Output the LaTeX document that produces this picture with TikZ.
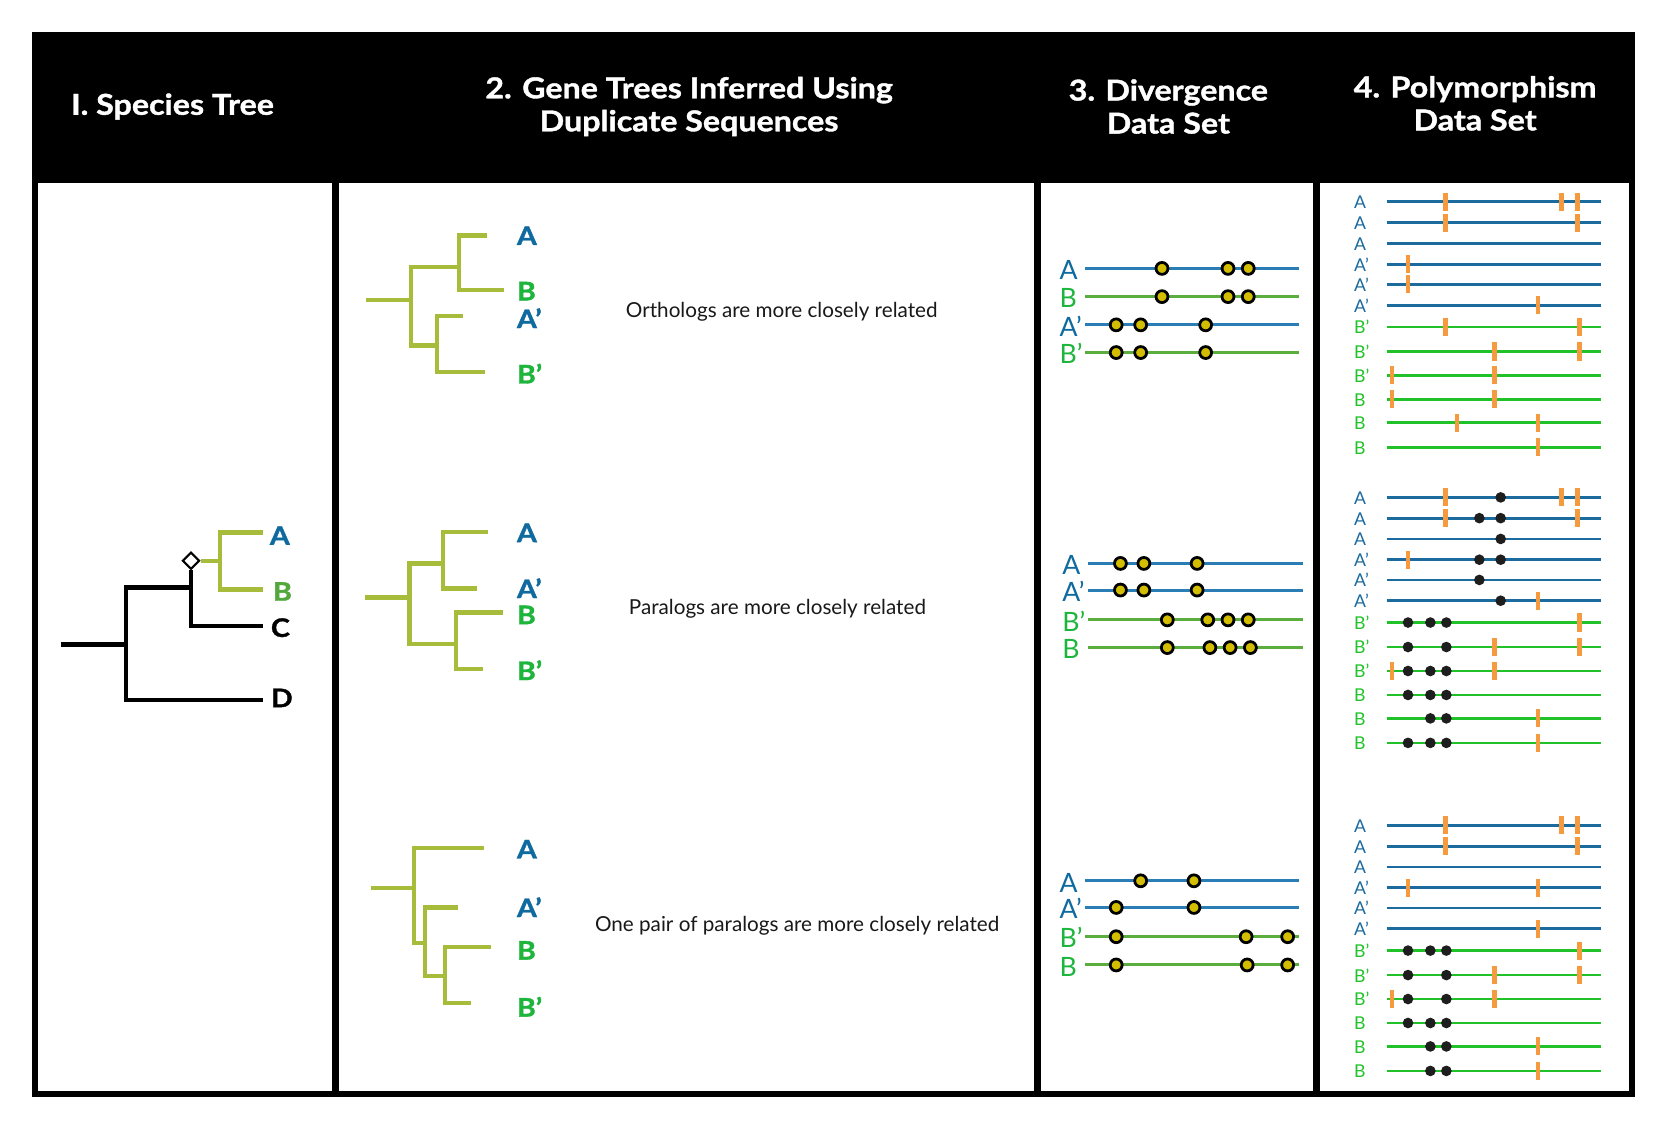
\documentclass[tikz,border=0pt]{standalone}
\usepackage{fontspec}
\setmainfont{Lato}
\newfontfamily\headfont{Lato}[FakeStretch=1.12, BoldFeatures={FakeBold=1.3}]
\usetikzlibrary{shapes.geometric}

\definecolor{labblue}{HTML}{0F6A9F}
\definecolor{labgreen}{HTML}{1DB53C}
\definecolor{spgreen}{HTML}{52A83C}
\definecolor{treegreen}{HTML}{A7BC3A}
\definecolor{divblue}{HTML}{2B7DB5}
\definecolor{divgreen}{HTML}{5BAE3E}
\definecolor{dotyellow}{HTML}{D2BD00}
\definecolor{polblue}{HTML}{1C6B9E}
\definecolor{polgreen}{HTML}{21C229}
\definecolor{snporange}{HTML}{F69A3F}
\definecolor{dotblack}{HTML}{1E1E1E}

\tikzset{
  panel/.style={fill=white},
  header/.style={text=white, align=center, font=\headfont\bfseries\fontsize{13.5}{15.5}\selectfont},
  branch/.style={line width=2pt},
  dupnode/.style={diamond, draw=black, fill=white, line width=1pt, inner sep=0pt, minimum width=8pt, minimum height=8pt},
  treelabel/.style={anchor=base west, inner sep=0pt, font=\headfont\bfseries\fontsize{12}{13}\selectfont},
  note/.style={font=\fontsize{9.7}{11}\selectfont, text=black!90},
  divline/.style={line width=1.4pt},
  divlabel/.style={anchor=base west, inner sep=0pt, font=\fontsize{12.5}{14}\selectfont},
  divsite/.style={circle, draw=black, line width=1.3pt, fill=dotyellow, inner sep=0pt, minimum size=5.6pt},
  polline/.style={line width=1.3pt},
  pollabel/.style={anchor=base west, inner sep=0pt, font=\fontsize{8.3}{9}\selectfont},
  snp/.style={rectangle, fill=snporange, inner sep=0pt, minimum width=2.2pt, minimum height=8.5pt},
  polsite/.style={circle, fill=dotblack, inner sep=0pt, minimum size=5pt}
}

\begin{document}
\begin{tikzpicture}[x=0.5pt, y=-0.5pt]
  \useasboundingbox (0,0) rectangle (1568,1062);

  % frame and panels
  \fill[black] (30,30) rectangle (1535,1030);
  \fill[panel] (35.5,172) rectangle (311.7,1024.5);
  \fill[panel] (318.3,172) rectangle (971.2,1024.5);
  \fill[panel] (977.5,172) rectangle (1233,1024.5);
  \fill[panel] (1239,172) rectangle (1529.5,1024.5);

  \node[header] (h1) at (162,100)  {I. Species Tree};
  \node[header] (h2) at (647,100)  {2. Gene Trees Inferred Using\\Duplicate Sequences};
  \node[header] (h3) at (1097,100) {3. Divergence\\Data Set};
  \node[header] (h4) at (1385,97)  {4. Polymorphism\\Data Set};

  % species tree
  \coordinate (sroot) at (57,605);
  \coordinate (sn1) at (118,605);
  \coordinate (sn2) at (179.3,551.5);
  \coordinate (sAB) at (206.5,526.5);
  \coordinate (stA) at (247,500);
  \coordinate (stB) at (247,553.5);
  \coordinate (stC) at (247,587.5);
  \coordinate (stD) at (247,657);
  \node[dupnode] (sdup) at (179.3,526.5) {};

  \draw[branch] (sroot) -- (sn1);
  \draw[branch] (sn2) -- (sn2 -| sn1) |- (stD);
  \draw[branch] (sdup.south) |- (stC);
  \draw[branch,treegreen] (sdup.east) -- (sAB);
  \draw[branch,treegreen] (stA) -| (sAB |- stB) -- (stB);

  \node[treelabel,text=labblue] (spA) at (253,511.5) {A};
  \node[treelabel,text=spgreen] (spB) at (256,564) {B};
  \node[treelabel] (spC) at (254,598) {C};
  \node[treelabel] (spD) at (254,664) {D};

  % gene trees
  \begin{scope}[every path/.style={branch,treegreen}]
    \coordinate (g1s) at (344,282);   \coordinate (g1r) at (386,282);
    \coordinate (g1u) at (431,250.5); \coordinate (g1l) at (410,324.5);
    \coordinate (g1A) at (457,221);   \coordinate (g1B) at (473,272.5);
    \coordinate (g1C) at (435,297);   \coordinate (g1D) at (455,349.5);
    \draw (g1A) -| (g1u |- g1B) -- (g1B);
    \draw (g1C) -| (g1l |- g1D) -- (g1D);
    \draw (g1u) -| (g1r |- g1l) -- (g1l);
    \draw (g1s) -- (g1r);

    \coordinate (g2s) at (343,561);   \coordinate (g2r) at (384.4,561);
    \coordinate (g2u) at (416,529);   \coordinate (g2l) at (428,604.5);
    \coordinate (g2A) at (458,499.5); \coordinate (g2B) at (448,552.5);
    \coordinate (g2C) at (472.5,575); \coordinate (g2D) at (453.5,628);
    \draw (g2A) -| (g2u |- g2B) -- (g2B);
    \draw (g2C) -| (g2l |- g2D) -- (g2D);
    \draw (g2u) -| (g2r |- g2l) -- (g2l);
    \draw (g2s) -- (g2r);

    \coordinate (g3s) at (348,833.5); \coordinate (g3r) at (388.4,833.5);
    \coordinate (g3m) at (399,885.5); \coordinate (g3l) at (418,916.5);
    \coordinate (g3A) at (454,796.5); \coordinate (g3B) at (430,852);
    \coordinate (g3C) at (461,889);   \coordinate (g3D) at (442,941.5);
    \draw (g3C) -| (g3l |- g3D) -- (g3D);
    \draw (g3B) -| (g3m |- g3l) -- (g3l);
    \draw (g3A) -| (g3r |- g3m) -- (g3m);
    \draw (g3s) -- (g3r);
  \end{scope}

  \node[treelabel,text=labblue]  (l1A) at (485,230)   {A};
  \node[treelabel,text=labgreen] (l1B) at (485,282)   {B};
  \node[treelabel,text=labblue]  (l1C) at (485,308)   {A’};
  \node[treelabel,text=labgreen] (l1D) at (485,360)   {B’};
  \node[treelabel,text=labblue]  (l2A) at (485,509)   {A};
  \node[treelabel,text=labblue]  (l2B) at (485,561.5) {A’};
  \node[treelabel,text=labgreen] (l2C) at (485,586)   {B};
  \node[treelabel,text=labgreen] (l2D) at (485,638.5) {B’};
  \node[treelabel,text=labblue]  (l3A) at (485,806)   {A};
  \node[treelabel,text=labblue]  (l3B) at (485,861)   {A’};
  \node[treelabel,text=labgreen] (l3C) at (485,901)   {B};
  \node[treelabel,text=labgreen] (l3D) at (485,954.5) {B’};

  \node[note] (n1) at (734,293)   {Orthologs are more closely related};
  \node[note] (n2) at (730,572)   {Paralogs are more closely related};
  \node[note] (n3) at (748.5,869) {One pair of paralogs are more closely related};

  % divergence data set
  \foreach \s/\xa/\xb/\xl/\rows in {1/1019/1220/994.5/{1/252/A/divblue/labblue,2/278.5/B/divgreen/labgreen,3/305/A’/divblue/labblue,4/331/B’/divgreen/labgreen},
      2/1022/1223/997/{1/529/A/divblue/labblue,2/554/A’/divblue/labblue,3/582/B’/divgreen/labgreen,4/608/B/divgreen/labgreen},
      3/1019/1220/994.5/{1/827/A/divblue/labblue,2/852/A’/divblue/labblue,3/879.5/B’/divgreen/labgreen,4/906/B/divgreen/labgreen}}{
    \foreach \r/\y/\lab/\col/\lcol in \rows {
      \coordinate (d\s-\r) at (\xa,\y);
      \coordinate (d\s-\r-e) at (\xb,\y);
      \node[divlabel,text=\lcol] (d\s-l\r) at (\xl,\y+10.5) {\lab};
      \draw[divline,\col] (d\s-\r) -- (d\s-\r-e);
    }
  }
  \foreach \r/\x [count=\k] in {1/1091,1/1153,1/1172,2/1091,2/1153,2/1172,3/1048,3/1071,3/1132,4/1048,4/1071,4/1132}
    \node[divsite] (d1-s\k) at (\x,0 |- d1-\r) {};
  \foreach \r/\x [count=\k] in {1/1052,1/1074,1/1124,2/1052,2/1074,2/1124,3/1096,3/1134,3/1153,3/1172,4/1096,4/1136,4/1155,4/1174}
    \node[divsite] (d2-s\k) at (\x,0 |- d2-\r) {};
  \foreach \r/\x [count=\k] in {1/1071,1/1121,2/1048,2/1121,3/1048,3/1170,3/1209,4/1048,4/1171,4/1209}
    \node[divsite] (d3-s\k) at (\x,0 |- d3-\r) {};

  % polymorphism data set
  \foreach \s/\base in {1/189.5,2/467,3/775}{
    \foreach \r/\off/\lab/\col in {1/0/A/polblue,2/19.5/A/polblue,3/39/A/polblue,4/58.5/A’/polblue,5/77.5/A’/polblue,6/97/A’/polblue,
        7/117.5/B’/polgreen,8/140.5/B’/polgreen,9/163/B’/polgreen,10/185.5/B/polgreen,11/207.5/B/polgreen,12/230.5/B/polgreen}{
      \coordinate (p\s-\r) at (1302,\base+\off);
      \coordinate (p\s-\r-e) at (1503,\base+\off);
      \node[pollabel,text=\col] (p\s-l\r) at (1271,\base+\off+6.5) {\lab};
      \draw[polline,\col] (p\s-\r) -- (p\s-\r-e);
    }
  }
  \foreach \r/\x [count=\k] in {1/1357,1/1466,1/1481,2/1357,2/1481,4/1322,5/1322,6/1444,7/1357,7/1483,
      8/1403,8/1483,9/1307,9/1403,10/1307,10/1403,11/1368,11/1444,12/1444}
    \node[snp] (p1-t\k) at (\x,0 |- p1-\r) {};
  \foreach \r/\x [count=\k] in {1/1357,1/1466,1/1481,2/1357,2/1481,4/1322,6/1444,7/1483,8/1403,8/1483,
      9/1307,9/1403,11/1444,12/1444}
    \node[snp] (p2-t\k) at (\x,0 |- p2-\r) {};
  \foreach \r/\x [count=\k] in {1/1357,1/1466,1/1481,2/1357,2/1481,4/1322,4/1444,6/1444,7/1483,8/1403,
      8/1483,9/1307,9/1403,11/1444,12/1444}
    \node[snp] (p3-t\k) at (\x,0 |- p3-\r) {};
  \foreach \r/\x [count=\k] in {1/1409,2/1389,2/1409,3/1409,4/1389,4/1409,5/1389,6/1409,7/1322,7/1343,7/1358,
      8/1322,8/1358,9/1322,9/1343,9/1358,10/1322,10/1343,10/1358,11/1343,11/1358,12/1322,12/1343,12/1358}
    \node[polsite] (p2-s\k) at (\x,0 |- p2-\r) {};
  \foreach \r/\x [count=\k] in {7/1322,7/1343,7/1358,8/1322,8/1358,9/1322,9/1358,10/1322,10/1343,10/1358,
      11/1343,11/1358,12/1343,12/1358}
    \node[polsite] (p3-s\k) at (\x,0 |- p3-\r) {};

\end{tikzpicture}
\end{document}
